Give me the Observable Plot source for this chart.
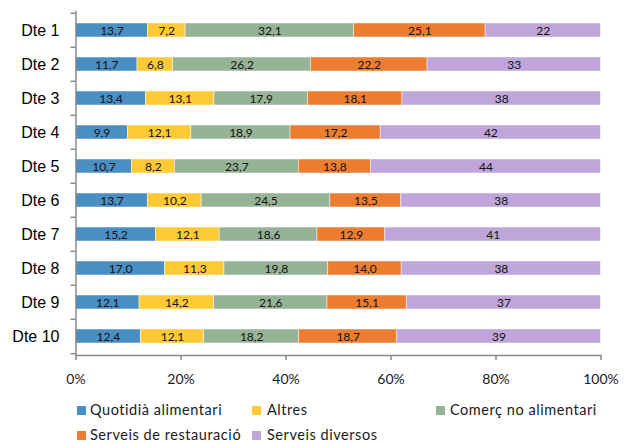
<!DOCTYPE html>
<html>
<head>
<meta charset="utf-8">
<script src="https://cdn.jsdelivr.net/npm/d3@7"></script>
<script src="https://cdn.jsdelivr.net/npm/@observablehq/plot@0.6"></script>
<style>
  html, body { margin: 0; padding: 0; background: #fff; }
  #wrap { position: relative; width: 631px; height: 443px; }
  #legend { position: absolute; left: 0; top: 0; width: 631px; height: 443px; pointer-events: none; }
  .li { position: absolute; font-family: Lato, "Noto Sans", sans-serif; font-size: 14.5px; letter-spacing: 0.55px; color: #1a1a1a; white-space: nowrap; line-height: 16px; }
  .sw { position: absolute; width: 9px; height: 9px; }
</style>
</head>
<body>
<div id="wrap"><div id="chart"></div><div id="legend"></div></div>
<script>
const districts = ["Dte 1","Dte 2","Dte 3","Dte 4","Dte 5","Dte 6","Dte 7","Dte 8","Dte 9","Dte 10"];
const categories = ["Quotidià alimentari","Altres","Comerç no alimentari","Serveis de restauració","Serveis diversos"];
const colors = ["#4a8fc4","#ffca36","#96b396","#ed7d31","#bfa5d9"];
const quotidia    = [13.7, 11.7, 13.4,  9.9, 10.7, 13.7, 15.2, 17.0, 12.1, 12.4];
const altres      = [ 7.2,  6.8, 13.1, 12.1,  8.2, 10.2, 12.1, 11.3, 14.2, 12.1];
const comerc      = [32.1, 26.2, 17.9, 18.9, 23.7, 24.5, 18.6, 19.8, 21.6, 18.2];
const restauracio = [25.1, 22.2, 18.1, 17.2, 13.8, 13.5, 12.9, 14.0, 15.1, 18.7];
const diversos    = [22, 33, 38, 42, 44, 38, 41, 38, 37, 39];
const decimals    = [1, 1, 1, 1, 0];
const xTicks = [0, 0.2, 0.4, 0.6, 0.8, 1];

const series = [quotidia, altres, comerc, restauracio, diversos];
const data = districts.flatMap((d, i) => categories.map((c, j) => ({
  district: d, cat: c, value: series[j][i], dec: decimals[j]
})));
const fmt = d => d.value.toFixed(d.dec).replace(".", ",");

const step = 34.4;
const chart = Plot.plot({
  width: 631,
  height: 392,
  marginLeft: 75.5,
  marginRight: 30.5,
  marginTop: 11,
  marginBottom: 37,
  style: {background: "white"},
  x: {domain: [0, 1], axis: null},
  y: {domain: districts, paddingInner: 0.59, paddingOuter: 0.295, axis: null},
  color: {domain: categories, range: colors},
  marks: [
    Plot.barX(data, Plot.stackX({offset: "normalize", x: "value", y: "district", fill: "cat", stroke: "white", strokeWidth: 0.6, strokeOpacity: 0.8})),
    Plot.text(data, Plot.stackX({offset: "normalize", x: "value", y: "district", z: "cat", text: fmt, fill: "#111", fontSize: 12, fontFamily: "Lato, sans-serif", dy: 1})),
    Plot.text(districts, {y: d => d, text: d => d, frameAnchor: "left", textAnchor: "end", dx: -16.5, fontSize: 16, fontFamily: "'Liberation Sans', Arial, sans-serif", fill: "black"}),
    Plot.axisY({tickSize: 5, tickFormat: () => "", label: null, stroke: "#888", strokeWidth: 1.5, dy: -step / 2}),
    Plot.axisY({ticks: [districts[districts.length - 1]], tickSize: 5, tickFormat: () => "", label: null, stroke: "#888", strokeWidth: 1.5, dy: step / 2}),
    Plot.axisX({ticks: xTicks, tickFormat: d => Math.round(d * 100) + "%", label: null, tickSize: 5, tickPadding: 14, stroke: "#888", strokeWidth: 1.5, fontSize: 14, fontFamily: "Lato, sans-serif", fill: "#1a1a1a"}),
    Plot.frame({anchor: "left", stroke: "#888", strokeWidth: 1.5}),
    Plot.frame({anchor: "bottom", stroke: "#888", strokeWidth: 1.5})
  ]
});
document.getElementById("chart").appendChild(chart);

// legend
const legendPos = [
  {sw: 77, tx: 90, cy: 410},
  {sw: 252, tx: 267, cy: 410},
  {sw: 436, tx: 450, cy: 410},
  {sw: 77, tx: 90, cy: 435},
  {sw: 252, tx: 267, cy: 435}
];
const leg = document.getElementById("legend");
categories.forEach((c, i) => {
  const p = legendPos[i];
  const s = document.createElement("div");
  s.className = "sw";
  s.style.left = p.sw + "px";
  s.style.top = (p.cy - 4.5) + "px";
  s.style.background = colors[i];
  leg.appendChild(s);
  const t = document.createElement("div");
  t.className = "li";
  t.style.left = p.tx + "px";
  t.style.top = (p.cy - 8) + "px";
  t.textContent = c;
  leg.appendChild(t);
});
</script>
</body>
</html>
